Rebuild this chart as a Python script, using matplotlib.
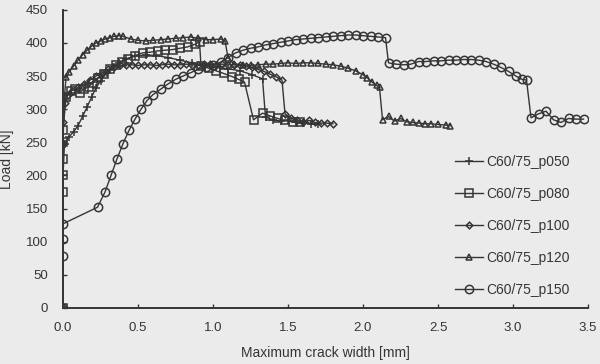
import numpy as np
import matplotlib.pyplot as plt

plt.rcParams['font.family'] = ['Liberation Sans', 'DejaVu Sans']

ink = '#353535'
paper = '#ebebeb'

# C60/75_p050  (+)
x050 = [0, 0, 0.01, 0.04, 0.07, 0.10, 0.13, 0.16, 0.19, 0.22, 0.25, 0.29, 0.33, 0.37,
        0.42, 0.48, 0.55, 0.62, 0.70, 0.78, 0.86, 0.94, 1.02, 1.10, 1.18, 1.26, 1.33,
        1.35, 1.40, 1.45, 1.50, 1.55, 1.60, 1.65, 1.70]
y050 = [0, 200, 248, 258, 266, 275, 289, 303, 318, 332, 343, 354, 363, 370,
        376, 380, 382, 381, 378, 374, 370, 366, 363, 361, 358, 352, 346,
        288, 284, 282, 283, 280, 279, 278, 277]

# C60/75_p080  (squares)
x080 = [0, 0, 0, 0, 0, 0, 0.02, 0.05, 0.08, 0.11, 0.14, 0.17, 0.20, 0.23, 0.27, 0.31,
        0.35, 0.39, 0.43, 0.48, 0.53, 0.58, 0.63, 0.68, 0.73, 0.78, 0.83, 0.88, 0.91,
        0.92, 0.97, 1.02, 1.07, 1.13, 1.17, 1.21,
        1.27, 1.33, 1.38, 1.43, 1.48, 1.53, 1.58]
y080 = [0, 175, 200, 225, 250, 268, 318, 328, 330, 325, 330, 334, 340, 347, 353, 360,
        366, 371, 376, 381, 385, 386, 388, 389, 390, 392, 394, 398, 402,
        365, 362, 358, 354, 349, 345, 341,
        284, 294, 290, 286, 283, 281, 280]

# C60/75_p100  (diamonds)
x100 = [0, 0, 0.01, 0.03, 0.06, 0.10, 0.14, 0.18, 0.22, 0.26, 0.30, 0.34, 0.38, 0.42,
        0.46, 0.50, 0.54, 0.58, 0.62, 0.66, 0.70, 0.74, 0.78, 0.82, 0.86, 0.90, 0.94,
        0.98, 1.02, 1.06, 1.10, 1.14, 1.18, 1.22, 1.26, 1.30, 1.34, 1.38, 1.42, 1.46,
        1.48, 1.52, 1.56, 1.60, 1.64, 1.68, 1.72, 1.76, 1.80]
y100 = [0, 280, 310, 322, 328, 333, 338, 344, 350, 355, 360, 364, 366, 367,
        367, 366, 367, 367, 366, 367, 368, 367, 367, 368, 367, 367, 368,
        368, 367, 368, 367, 367, 366, 365, 363, 360, 357, 353, 349, 344,
        293, 286, 284, 281, 283, 280, 279, 279, 278]

# C60/75_p120  (triangles)
x120 = [0, 0, 0.01, 0.02, 0.04, 0.07, 0.10, 0.13, 0.16, 0.19, 0.22, 0.25, 0.28, 0.31,
        0.34, 0.37, 0.40, 0.45, 0.50, 0.55, 0.60, 0.65, 0.70, 0.75, 0.80, 0.85, 0.90,
        0.95, 1.00, 1.05, 1.08,
        1.10, 1.14, 1.20, 1.25, 1.30, 1.35, 1.40, 1.45, 1.50, 1.55, 1.60, 1.65, 1.70,
        1.75, 1.80, 1.85, 1.90, 1.95, 2.00, 2.03, 2.06, 2.09, 2.11,
        2.13, 2.17, 2.21, 2.25, 2.29, 2.33, 2.37, 2.41, 2.45, 2.50, 2.55, 2.58]
y120 = [0, 250, 320, 348, 356, 365, 374, 382, 389, 395, 400, 403, 406, 408,
        410, 411, 410, 406, 404, 403, 404, 405, 406, 407, 408, 409, 407,
        405, 405, 406, 403,
        378, 368, 367, 366, 367, 368, 368, 369, 370, 369, 370, 370, 369,
        368, 367, 365, 362, 358, 352, 347, 341, 336, 333,
        284, 289, 282, 286, 281, 280, 279, 278, 278, 277, 276, 275]

# C60/75_p150  (circles)
x150 = [0, 0, 0, 0, 0.23, 0.28, 0.32, 0.36, 0.40, 0.44, 0.48, 0.52, 0.56, 0.60, 0.65,
        0.70, 0.75, 0.80, 0.85, 0.90, 0.95, 1.00, 1.05, 1.10, 1.15, 1.20, 1.25, 1.30,
        1.35, 1.40, 1.45, 1.50, 1.55, 1.60, 1.65, 1.70, 1.75, 1.80, 1.85, 1.90, 1.95,
        2.00, 2.05, 2.10, 2.15,
        2.17, 2.22, 2.27, 2.32, 2.37, 2.42, 2.47, 2.52, 2.57, 2.62, 2.67, 2.72, 2.77,
        2.82, 2.87, 2.92, 2.97, 3.02, 3.06, 3.09,
        3.12, 3.17, 3.22, 3.27, 3.32, 3.37, 3.42, 3.47]
y150 = [0, 78, 104, 127, 152, 175, 200, 225, 248, 268, 285, 300, 313, 322, 330,
        338, 345, 350, 355, 360, 363, 366, 371, 378, 385, 389, 392, 394,
        397, 399, 401, 403, 405, 406, 407, 408, 409, 410, 411, 412, 412,
        411, 410, 409, 408,
        370, 368, 367, 368, 372, 372, 373, 373, 374, 374, 375, 375, 374,
        372, 368, 363, 357, 350, 345, 344,
        287, 293, 297, 284, 280, 286, 285, 285]

series = [
    (x050, y050, '+', 6.0, 'C60/75_p050'),
    (x080, y080, 's', 5.3, 'C60/75_p080'),
    (x100, y100, 'D', 3.4, 'C60/75_p100'),
    (x120, y120, '^', 4.2, 'C60/75_p120'),
    (x150, y150, 'o', 6.0, 'C60/75_p150'),
]

fig = plt.figure(figsize=(6.0, 3.64), dpi=100, facecolor=paper)
ax = fig.add_axes([0.105, 0.154, 0.875, 0.819])
ax.set_facecolor(paper)

for xs, ys, mk, ms, lab in series:
    ax.plot(xs, ys, color=ink, lw=1.0, marker=mk, ms=ms, mfc='none',
            mec=ink, mew=1.1, label=lab)

ax.set_xlim(0, 3.5)
ax.set_ylim(0, 450)
ax.set_xticks(np.arange(0, 3.51, 0.5))
ax.set_yticks(np.arange(0, 451, 50))
ax.xaxis.set_major_formatter(plt.FormatStrFormatter('%.1f'))

for s in ['top', 'right']:
    ax.spines[s].set_visible(False)
for s in ['left', 'bottom']:
    ax.spines[s].set_color(ink)
    ax.spines[s].set_linewidth(1.4)

ax.tick_params(axis='x', direction='in', length=3, width=1, colors=ink, labelsize=9.5, pad=10)
ax.tick_params(axis='y', direction='in', length=3, width=1, colors=ink, labelsize=9.5, pad=11)
ax.set_xlabel('Maximum crack width [mm]', fontsize=10, color=ink, labelpad=9)
ax.set_ylabel('Load [kN]', fontsize=10, color=ink, labelpad=8)

ax.legend(loc='upper left', bbox_to_anchor=(0.758, 0.574), bbox_transform=fig.transFigure,
          frameon=False, fontsize=10, numpoints=1, handlelength=2.0,
          handletextpad=0.3, labelspacing=1.3, borderpad=0, borderaxespad=0,
          labelcolor=ink)

fig.savefig('out.png', dpi=100, facecolor=paper)
